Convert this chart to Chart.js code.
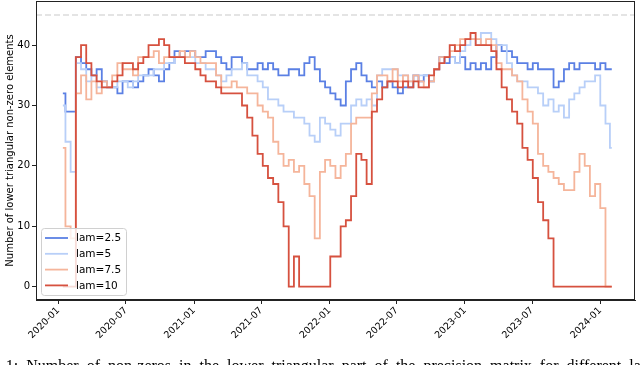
<!DOCTYPE html>
<html lang="en">
<head>
  <meta charset="UTF-8">
  <title>Lower triangular non-zero elements</title>
  <style>
    html, body {
      margin: 0;
      padding: 0;
      background: #fff;
      overflow: hidden;
    }
    #wrap {
      position: relative;
      width: 640px;
      height: 365px;
      overflow: hidden;
    }
    #caption {
      position: absolute;
      left: -44px;
      top: 357px;
      font-family: 'Liberation Serif', 'DejaVu Serif', serif;
      font-size: 16px;
      word-spacing: 4px;
      white-space: nowrap;
      color: #000;
    }
  </style>
</head>
<body>
  <div id="wrap">
    <canvas id="chart" width="640" height="365"></canvas>
    <div id="caption">Figure 1: Number of non-zeros in the lower triangular part of the precision matrix for different lam</div>
  </div>
  <script src="https://cdn.jsdelivr.net/npm/chart.js"></script>
  <script>
    // sample dates (every two weeks)
    const dates = [
      '2020-01-13', '2020-01-27', '2020-02-10', '2020-02-24', '2020-03-09', '2020-03-23', '2020-04-06', '2020-04-20',
      '2020-05-04', '2020-05-18', '2020-06-01', '2020-06-15', '2020-06-29', '2020-07-13', '2020-07-27', '2020-08-10',
      '2020-08-24', '2020-09-07', '2020-09-21', '2020-10-05', '2020-10-19', '2020-11-02', '2020-11-16', '2020-11-30',
      '2020-12-14', '2020-12-28', '2021-01-11', '2021-01-25', '2021-02-08', '2021-02-22', '2021-03-08', '2021-03-22',
      '2021-04-05', '2021-04-19', '2021-05-03', '2021-05-17', '2021-05-31', '2021-06-14', '2021-06-28', '2021-07-12',
      '2021-07-26', '2021-08-09', '2021-08-23', '2021-09-06', '2021-09-20', '2021-10-04', '2021-10-18', '2021-11-01',
      '2021-11-15', '2021-11-29', '2021-12-13', '2021-12-27', '2022-01-10', '2022-01-24', '2022-02-07', '2022-02-21',
      '2022-03-07', '2022-03-21', '2022-04-04', '2022-04-18', '2022-05-02', '2022-05-16', '2022-05-30', '2022-06-13',
      '2022-06-27', '2022-07-11', '2022-07-25', '2022-08-08', '2022-08-22', '2022-09-05', '2022-09-19', '2022-10-03',
      '2022-10-17', '2022-10-31', '2022-11-14', '2022-11-28', '2022-12-12', '2022-12-26', '2023-01-09', '2023-01-23',
      '2023-02-06', '2023-02-20', '2023-03-06', '2023-03-20', '2023-04-03', '2023-04-17', '2023-05-01', '2023-05-15',
      '2023-05-29', '2023-06-12', '2023-06-26', '2023-07-10', '2023-07-24', '2023-08-07', '2023-08-21', '2023-09-04',
      '2023-09-18', '2023-10-02', '2023-10-16', '2023-10-30', '2023-11-13', '2023-11-27', '2023-12-11', '2023-12-25',
      '2024-01-08', '2024-01-22', '2024-02-01'
    ];

    const lam2_5 = [
      32, 29, 29, 38, 37, 36, 35, 36, 34, 33, 33, 32, 34, 34, 33, 34, 35, 36, 35, 34, 36, 37, 39, 38, 39,
      39, 38, 38, 39, 39, 38, 37, 36, 38, 38, 37, 36, 36, 37, 36, 37, 36, 35, 35, 36, 36, 35, 37, 38, 36,
      34, 33, 32, 31, 30, 34, 36, 37, 35, 34, 33, 34, 33, 34, 33, 32, 33, 33, 35, 34, 35, 34, 36, 38, 37,
      38, 37, 38, 36, 37, 36, 37, 36, 38, 40, 39, 39, 38, 37, 37, 36, 37, 36, 36, 36, 33, 34, 36, 37, 36,
      37, 37, 37, 36, 37, 36, 36
    ];
    const lam5 = [
      30, 24, 19, 37, 36, 34, 35, 33, 33, 33, 33, 34, 34, 33, 34, 35, 35, 35, 36, 36, 37, 37, 38, 38, 38,
      38, 37, 37, 36, 36, 35, 34, 35, 36, 36, 37, 35, 35, 34, 33, 31, 31, 30, 29, 29, 28, 28, 27, 25, 24,
      28, 27, 26, 25, 27, 27, 30, 31, 30, 31, 30, 35, 36, 36, 36, 35, 35, 34, 35, 35, 35, 34, 36, 37, 38,
      38, 37, 39, 40, 41, 40, 42, 42, 41, 40, 40, 37, 35, 34, 34, 33, 33, 32, 30, 31, 29, 30, 28, 31, 32,
      33, 34, 34, 35, 30, 27, 23
    ];
    const lam7_5 = [
      23, 10, 8, 32, 35, 31, 34, 32, 34, 33, 35, 37, 36, 36, 35, 38, 38, 38, 39, 37, 38, 38, 38, 39, 38,
      39, 38, 37, 37, 37, 35, 33, 33, 34, 33, 33, 32, 32, 30, 29, 28, 24, 22, 20, 21, 19, 20, 17, 15, 8,
      19, 21, 20, 18, 20, 22, 27, 28, 28, 28, 32, 35, 35, 34, 36, 34, 35, 34, 35, 34, 33, 34, 36, 38, 38,
      39, 40, 41, 41, 41, 41, 40, 41, 40, 37, 36, 36, 35, 34, 31, 29, 27, 22, 20, 19, 18, 17, 16, 16, 19,
      22, 20, 15, 17, 13, 0, 0
    ];
    const lam10 = [
      0, 0, 0, 38, 40, 37, 35, 34, 33, 33, 34, 35, 37, 37, 36, 37, 38, 40, 40, 41, 40, 38, 38, 38, 37,
      37, 36, 35, 34, 34, 33, 32, 32, 32, 32, 30, 28, 25, 22, 20, 18, 17, 14, 10, 0, 5, 0, 0, 0, 0,
      0, 0, 5, 5, 10, 11, 15, 22, 21, 17, 29, 31, 33, 34, 34, 33, 34, 33, 34, 33, 33, 35, 36, 37, 38,
      40, 39, 40, 41, 42, 40, 40, 40, 39, 36, 33, 31, 29, 27, 23, 21, 18, 14, 11, 8, 0, 0, 0, 0, 0,
      0, 0, 0, 0, 0, 0, 0
    ];

    const seriesLabels = ['lam=2.5', 'lam=5', 'lam=7.5', 'lam=10'];
    const seriesColors = ['#5b80e4', '#b8cff8', '#f5b59b', '#d6513f'];
    const xTickLabels = ['2020-01', '2020-07', '2021-01', '2021-07', '2022-01', '2022-07', '2023-01', '2023-07', '2024-01'];
    const yTicks = [0, 10, 20, 30, 40];
    const refLevel = 45;

    // x axis in days since 2020-01-01
    const DAY = 86400000;
    const origin = Date.parse('2020-01-01');
    const toDay = s => (Date.parse(s) - origin) / DAY;
    const xMin = -60.4;
    const xMax = toDay('2024-01-01') + 93.6;

    Chart.defaults.font.family = "'DejaVu Sans', sans-serif";
    Chart.defaults.color = '#000';

    const allSeries = [lam2_5, lam5, lam7_5, lam10];
    const datasets = allSeries.map((vals, k) => ({
      label: seriesLabels[k],
      data: vals.map((v, i) => ({ x: toDay(dates[i]), y: v })),
      borderColor: seriesColors[k],
      backgroundColor: seriesColors[k],
      borderWidth: 1.8,
      pointRadius: 0,
      stepped: 'middle',
      fill: false,
      order: allSeries.length - k
    }));

    // dashed reference line + frame
    const refLine = {
      id: 'refLine',
      beforeDatasetsDraw(chart) {
        const { ctx, chartArea, scales } = chart;
        const y = scales.y.getPixelForValue(refLevel);
        ctx.save();
        ctx.strokeStyle = '#dcdcdc';
        ctx.lineWidth = 1.5;
        ctx.setLineDash([6, 3]);
        ctx.beginPath();
        ctx.moveTo(chartArea.left, y);
        ctx.lineTo(chartArea.right, y);
        ctx.stroke();
        ctx.restore();
      },
      afterDraw(chart) {
        const { ctx, chartArea } = chart;
        ctx.save();
        ctx.strokeStyle = '#222';
        ctx.lineWidth = 1;
        ctx.strokeRect(chartArea.left + 0.5, chartArea.top + 0.5,
          chartArea.right - chartArea.left - 1, chartArea.bottom - chartArea.top - 1);
        ctx.restore();
      }
    };

    // legend box inside lower-left corner, like matplotlib
    const legendBox = {
      id: 'legendBox',
      afterDatasetsDraw(chart) {
        const { ctx, chartArea } = chart;
        const x0 = chartArea.left + 5, y0 = chartArea.bottom - 72;
        ctx.save();
        ctx.fillStyle = 'rgba(255,255,255,0.8)';
        ctx.strokeStyle = '#d0d0d0';
        ctx.lineWidth = 1;
        ctx.beginPath();
        ctx.roundRect(x0 + 0.5, y0 + 0.5, 85, 67, 3);
        ctx.fill();
        ctx.stroke();
        ctx.font = "10.5px 'DejaVu Sans'";
        ctx.textBaseline = 'middle';
        chart.data.datasets.forEach((ds, i) => {
          const y = y0 + 10 + i * 15.8;
          ctx.strokeStyle = ds.borderColor;
          ctx.lineWidth = 1.8;
          ctx.beginPath();
          ctx.moveTo(x0 + 4, y);
          ctx.lineTo(x0 + 27, y);
          ctx.stroke();
          ctx.fillStyle = '#000';
          ctx.fillText(ds.label, x0 + 35, y + 0.5);
        });
        ctx.restore();
      }
    };

    new Chart(document.getElementById('chart'), {
      type: 'line',
      data: { datasets: datasets },
      options: {
        responsive: false,
        animation: false,
        layout: { padding: { top: 1, right: 5, left: 0, bottom: 0 } },
        plugins: {
          legend: { display: false },
          tooltip: { enabled: false }
        },
        scales: {
          x: {
            type: 'linear',
            min: xMin,
            max: xMax,
            afterBuildTicks: s => { s.ticks = xTickLabels.map(l => ({ value: toDay(l + '-01') })); },
            afterFit: s => { s.height = 65; s.paddingLeft = 0; s.paddingRight = 0; },
            ticks: {
              autoSkip: false,
              minRotation: 45,
              maxRotation: 45,
              padding: 1,
              font: { size: 9.5 },
              callback: (v, i) => xTickLabels[i]
            },
            grid: { drawOnChartArea: false, tickLength: 4, color: '#222' },
            border: { color: '#222' }
          },
          y: {
            min: -2.2,
            max: 47.3,
            afterBuildTicks: s => { s.ticks = yTicks.map(v => ({ value: v })); },
            afterFit: s => { s.width = 36; s.paddingTop = 0; s.paddingBottom = 0; },
            ticks: { padding: 2, font: { size: 10 } },
            grid: { drawOnChartArea: false, tickLength: 4, color: '#222' },
            border: { color: '#222' },
            title: {
              display: true,
              text: 'Number of lower triangular non-zero elements',
              font: { size: 10 },
              padding: { top: 4, bottom: 0 }
            }
          }
        }
      },
      plugins: [refLine, legendBox]
    });
  </script>
</body>
</html>
